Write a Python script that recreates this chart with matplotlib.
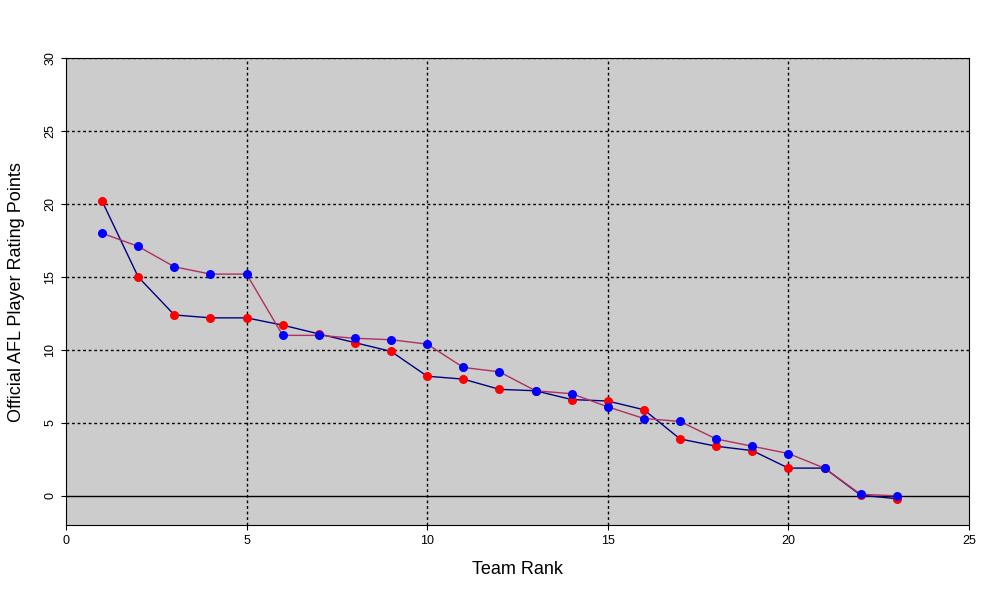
import matplotlib
matplotlib.use("Agg")
from matplotlib import pyplot as plt
import numpy as np

plt.rcParams['font.family'] = ['Liberation Sans', 'DejaVu Sans']

rank = np.arange(1, 24)
red_pts = [20.2, 15.0, 12.4, 12.2, 12.2, 11.7, 11.1, 10.5, 9.9, 8.2, 8.0, 7.3, 7.2,
           6.6, 6.5, 5.9, 3.9, 3.4, 3.1, 1.9, 1.9, 0.05, -0.2]
blue_pts = [18.0, 17.1, 15.7, 15.2, 15.2, 11.0, 11.0, 10.8, 10.7, 10.4, 8.8, 8.5, 7.2,
            7.0, 6.1, 5.3, 5.1, 3.9, 3.4, 2.9, 1.9, 0.1, 0.0]

fig = plt.figure(figsize=(10, 6), dpi=100)
ax = fig.add_axes([0.066, 0.125, 0.903, 0.778])
ax.set_facecolor('#cccccc')

ax.plot(rank, red_pts, color='#000080', lw=1, zorder=2)
ax.plot(rank, blue_pts, color='#b03060', lw=1, zorder=2)
ax.scatter(rank, red_pts, color='red', s=30, zorder=3)
ax.scatter(rank, blue_pts, color='blue', s=30, zorder=3)

ax.set_xlim(0, 25)
ax.set_ylim(-2, 30)
ax.set_xticks(range(0, 26, 5))
ax.set_yticks(range(0, 31, 5))
for v in range(5, 25, 5):
    ax.axvline(v, color='black', ls=(0, (2, 2)), lw=1, zorder=1)
for v in range(5, 31, 5):
    ax.axhline(v, color='black', ls=(0, (2, 2)), lw=1, zorder=1)
ax.axhline(0, color='black', lw=1, zorder=1)

ax.tick_params(labelsize=9)
for t in ax.get_yticklabels():
    t.set_rotation(90)
    t.set_va('center')
ax.set_xlabel('Team Rank', fontsize=13, labelpad=10)
ax.set_ylabel('Official AFL Player Rating Points', fontsize=13, labelpad=14)

fig.savefig('out.png')
